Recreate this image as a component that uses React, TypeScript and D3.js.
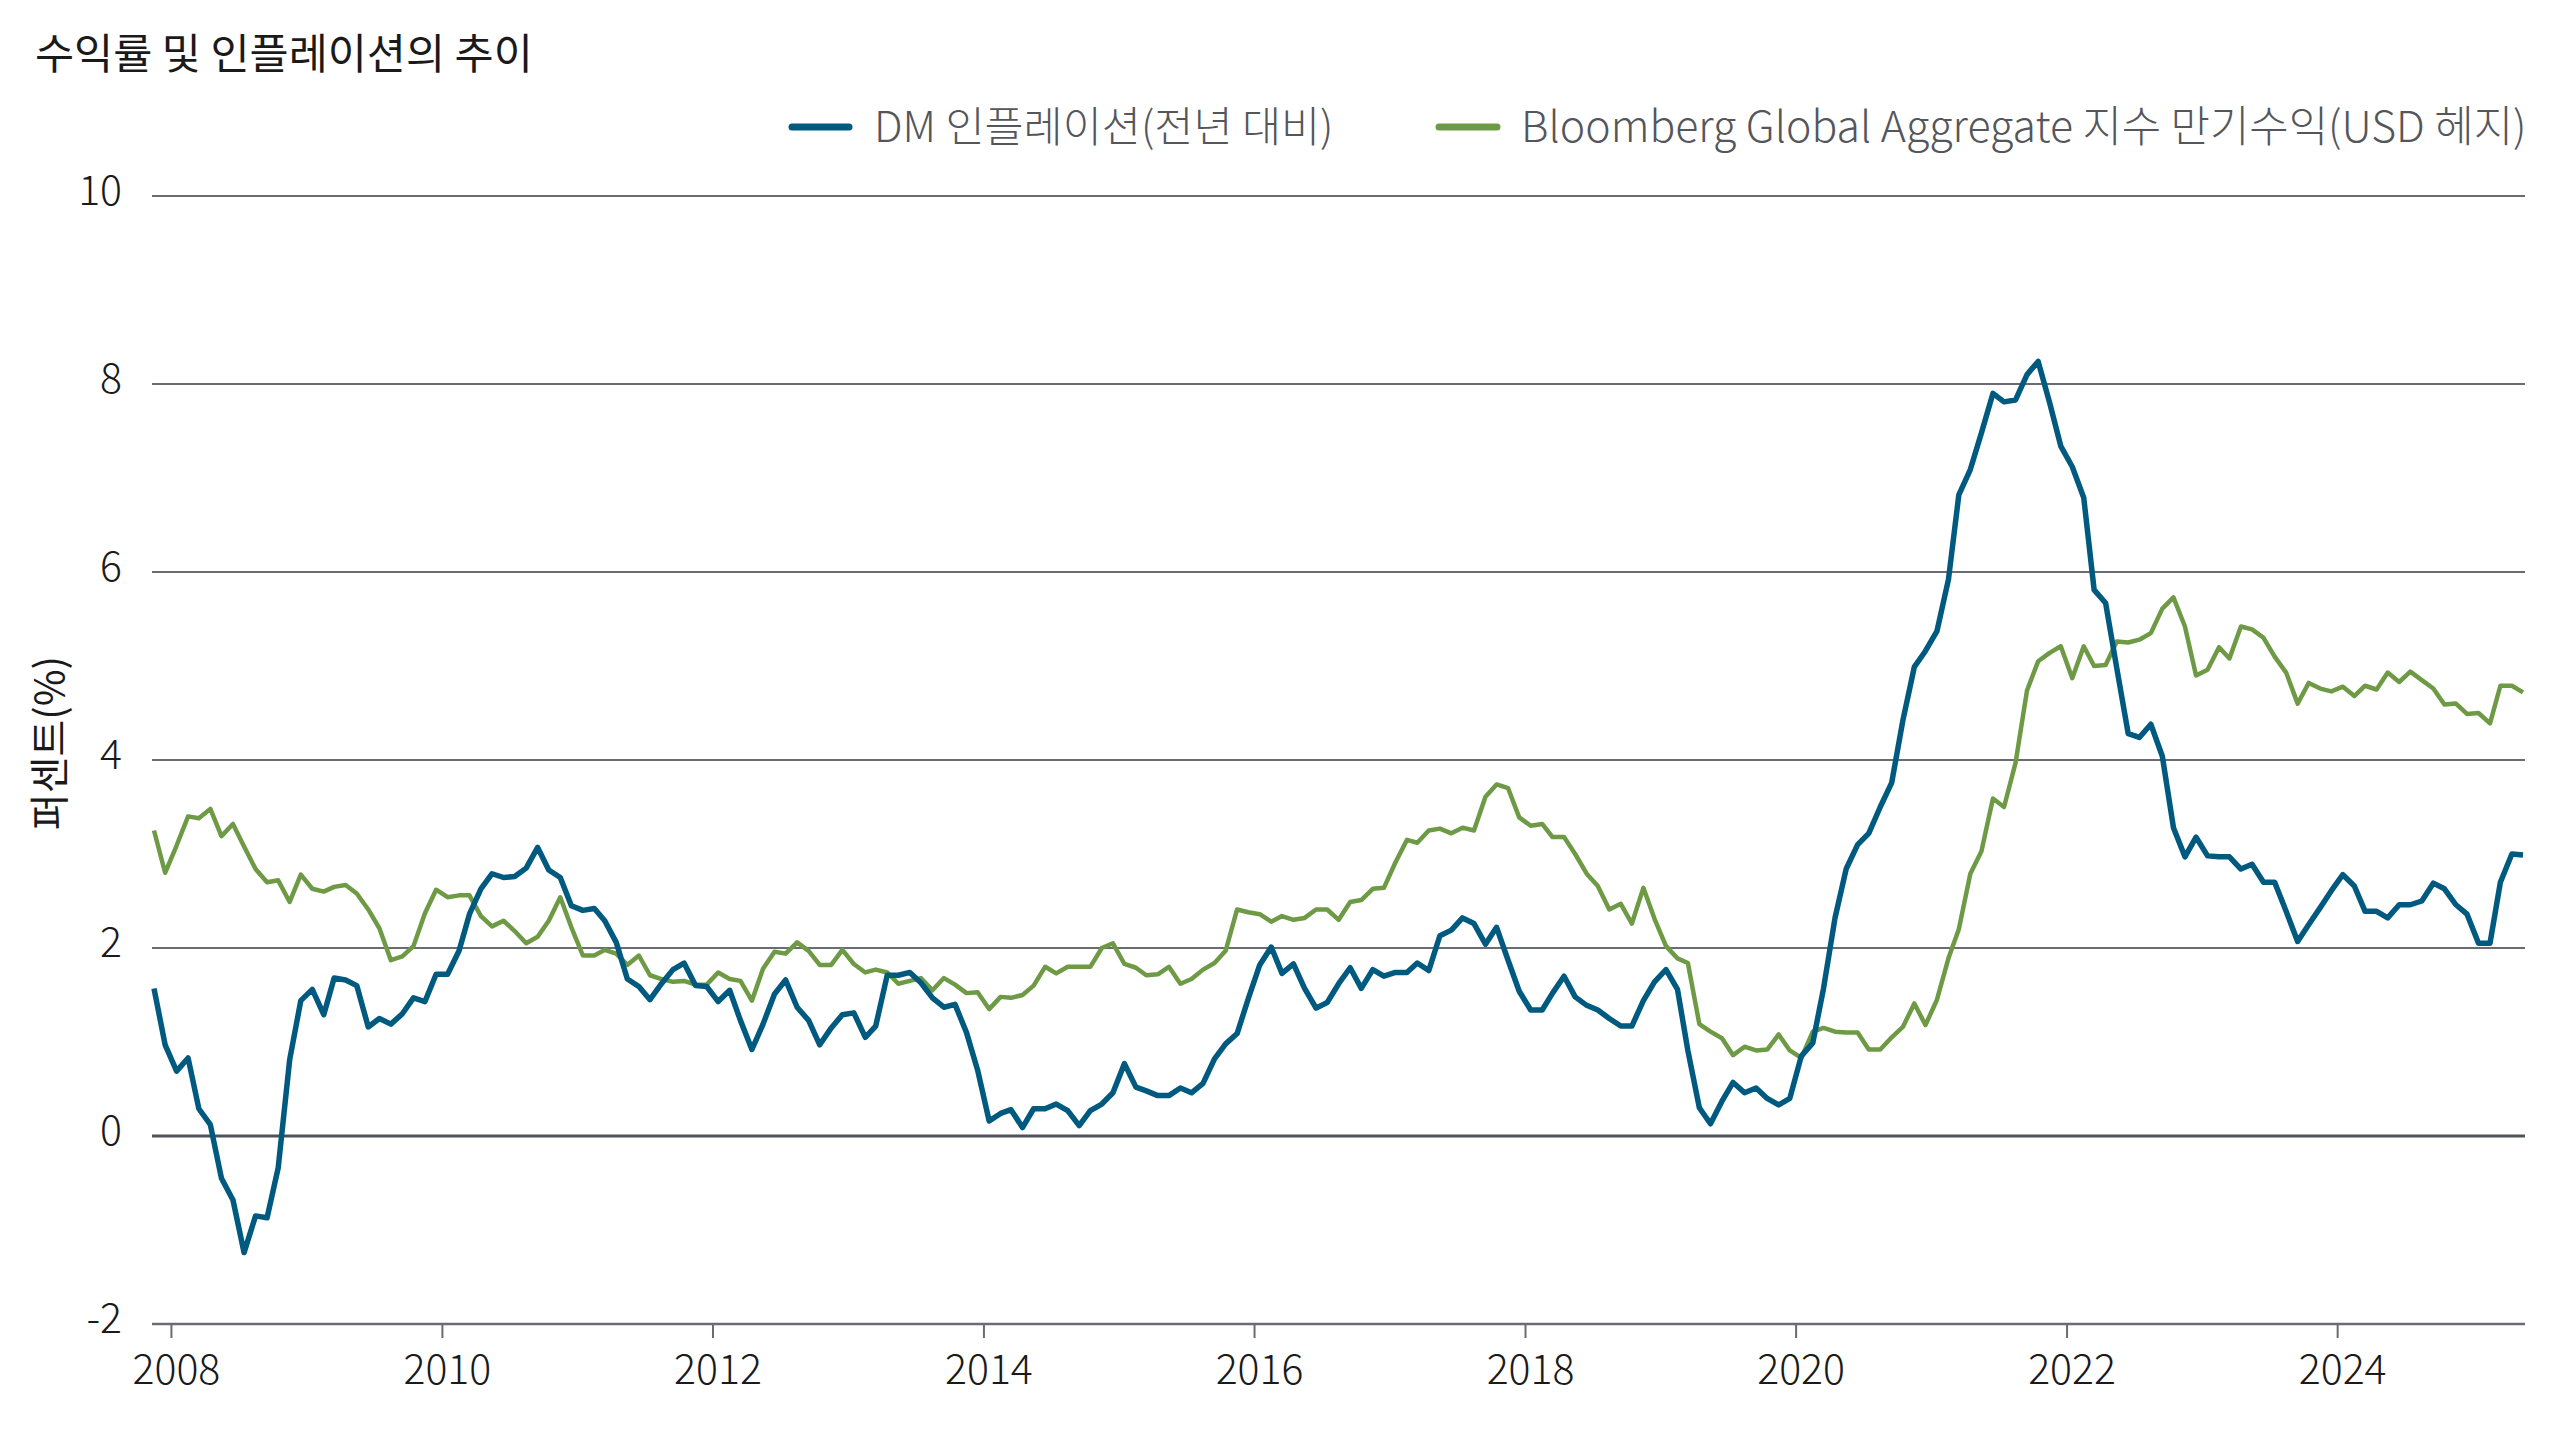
import * as React from "react";
import * as d3 from "d3";

// monthly readings, first month ~ Nov 2007 on the chart's date axis
const START = new Date(2007, 10, 15);

const dmInflation = [
  1.57, 0.97, 0.69, 0.83, 0.29, 0.12, -0.45, -0.68, -1.24, -0.85, -0.87, -0.34,
  0.81, 1.44, 1.56, 1.29, 1.68, 1.66, 1.6, 1.16, 1.25, 1.19, 1.3, 1.47,
  1.43, 1.72, 1.72, 1.97, 2.36, 2.63, 2.79, 2.75, 2.76, 2.85, 3.07, 2.83,
  2.75, 2.45, 2.4, 2.42, 2.29, 2.06, 1.67, 1.59, 1.45, 1.62, 1.77, 1.84,
  1.6, 1.59, 1.43, 1.55, 1.23, 0.92, 1.19, 1.51, 1.66, 1.37, 1.23, 0.97,
  1.15, 1.29, 1.31, 1.05, 1.17, 1.71, 1.71, 1.74, 1.63, 1.47, 1.37, 1.4,
  1.1, 0.7, 0.16, 0.24, 0.28, 0.09, 0.29, 0.29, 0.34, 0.27, 0.11, 0.27,
  0.34, 0.46, 0.77, 0.52, 0.48, 0.43, 0.43, 0.51, 0.46, 0.56, 0.82, 0.98,
  1.09, 1.46, 1.82, 2.01, 1.73, 1.83, 1.57, 1.36, 1.42, 1.62, 1.79, 1.57,
  1.77, 1.7, 1.74, 1.74, 1.84, 1.76, 2.13, 2.19, 2.32, 2.26, 2.04, 2.22,
  1.87, 1.54, 1.34, 1.34, 1.52, 1.7, 1.48, 1.39, 1.34, 1.25, 1.17, 1.17,
  1.44, 1.64, 1.77, 1.56, 0.91, 0.3, 0.13, 0.37, 0.57, 0.46, 0.51, 0.4,
  0.33, 0.4, 0.85, 0.99, 1.57, 2.32, 2.84, 3.1, 3.22, 3.5, 3.76, 4.42,
  4.99, 5.16, 5.37, 5.92, 6.82, 7.09, 7.48, 7.9, 7.81, 7.83, 8.1, 8.24,
  7.8, 7.34, 7.12, 6.79, 5.81, 5.67, 4.98, 4.28, 4.24, 4.38, 4.04, 3.28,
  2.97, 3.18, 2.98, 2.97, 2.97, 2.84, 2.89, 2.7, 2.7, 2.39, 2.07, 2.25,
  2.43, 2.61, 2.78, 2.66, 2.39, 2.39, 2.32, 2.46, 2.46, 2.5, 2.69, 2.63,
  2.46, 2.36, 2.05, 2.05, 2.7, 3.0, 2.99,
];

const globalAggYield = [
  3.25, 2.8, 3.09, 3.4, 3.38, 3.48, 3.19, 3.32, 3.08, 2.84, 2.7, 2.72,
  2.49, 2.78, 2.63, 2.6, 2.65, 2.67, 2.58, 2.41, 2.21, 1.87, 1.91, 2.02,
  2.37, 2.62, 2.54, 2.56, 2.56, 2.34, 2.23, 2.29, 2.18, 2.05, 2.12, 2.29,
  2.54, 2.22, 1.92, 1.92, 1.98, 1.94, 1.82, 1.92, 1.71, 1.67, 1.64, 1.65,
  1.61, 1.61, 1.74, 1.67, 1.65, 1.44, 1.78, 1.96, 1.94, 2.06, 1.97, 1.82,
  1.82, 1.98, 1.83, 1.74, 1.77, 1.74, 1.62, 1.65, 1.68, 1.55, 1.68, 1.61,
  1.52, 1.53, 1.35, 1.48, 1.47, 1.5, 1.6, 1.8, 1.73, 1.8, 1.8, 1.8,
  2.0, 2.05, 1.83, 1.79, 1.71, 1.72, 1.8, 1.62, 1.67, 1.77, 1.84, 1.97,
  2.41, 2.38, 2.36, 2.28, 2.34, 2.3, 2.32, 2.41, 2.41, 2.3, 2.49, 2.51,
  2.63, 2.64, 2.91, 3.15, 3.12, 3.25, 3.27, 3.22, 3.28, 3.25, 3.61, 3.74,
  3.7, 3.39, 3.3, 3.32, 3.18, 3.18, 3.0, 2.79, 2.66, 2.41, 2.47, 2.26,
  2.64, 2.31, 2.02, 1.89, 1.84, 1.19, 1.11, 1.04, 0.86, 0.95, 0.91, 0.92,
  1.08, 0.91, 0.83, 1.11, 1.15, 1.11, 1.1, 1.1, 0.92, 0.92, 1.05, 1.16,
  1.41, 1.18, 1.45, 1.89, 2.2, 2.79, 3.03, 3.59, 3.5, 3.97, 4.74, 5.05,
  5.14, 5.21, 4.87, 5.21, 5.0, 5.01, 5.26, 5.25, 5.28, 5.35, 5.61, 5.73,
  5.42, 4.9, 4.96, 5.2, 5.08, 5.42, 5.39, 5.3, 5.1, 4.93, 4.6, 4.82,
  4.76, 4.73, 4.78, 4.68, 4.79, 4.75, 4.93, 4.83, 4.94, 4.85, 4.76, 4.59,
  4.6, 4.49, 4.5, 4.39, 4.79, 4.79, 4.72,
];

const yTicks = [-2, 0, 2, 4, 6, 8, 10];
const xTickYears = [2008, 2010, 2012, 2014, 2016, 2018, 2020, 2022, 2024];

const TITLE = "수익률 및 인플레이션의 추이";
const Y_TITLE = "퍼센트(%)";
const SERIES = [
  { name: "DM 인플레이션(전년 대비)", color: "#005a80", width: 5.5 },
  { name: "Bloomberg Global Aggregate 지수 만기수익(USD 헤지)", color: "#6e9a45", width: 4.5 },
];

const FONT = "'Noto Sans CJK KR', 'Noto Sans', sans-serif";

export default function App() {
  const W = 2560, H = 1440;
  const dates = dmInflation.map((_, i) => d3.timeMonth.offset(START, i));

  const x = d3.scaleTime()
    .domain([dates[0], dates[dates.length - 1]])
    .range([154, 2523]);
  const y = d3.scaleLinear().domain([-2, 10]).range([1324, 196]);

  const line = d3.line<number>()
    .x((_, i) => x(dates[i]))
    .y(d => y(d))
    .curve(d3.curveLinear);

  const gridX0 = 152, gridX1 = 2525;

  return (
    <div style={{ position: "absolute", left: 0, top: 0 }}>
      <svg width={W} height={H} style={{ display: "block", background: "#fff" }} fontFamily={FONT}>
        <text x={35} y={54} dy="0.35em" fontSize={42.5} fill="#1a1a1a">{TITLE}</text>

        {/* legend */}
        <line x1={792} x2={849} y1={127} y2={127} stroke={SERIES[0].color} strokeWidth={7} strokeLinecap="round" />
        <text x={874} y={127} dy="0.35em" fontSize={42.5} fontWeight={300} fill="#54565b">{SERIES[0].name}</text>
        <line x1={1439} x2={1497} y1={127} y2={127} stroke={SERIES[1].color} strokeWidth={7} strokeLinecap="round" />
        <text x={1521} y={127} dy="0.35em" fontSize={42.8} fontWeight={300} fill="#54565b">{SERIES[1].name}</text>

        {/* grid */}
        {yTicks.map(t => (
          <g key={t}>
            <line x1={gridX0} x2={gridX1} y1={y(t)} y2={y(t)}
              stroke={t === 0 ? "#4f525a" : "#6a6c73"} strokeWidth={t === 0 ? 3 : t === -2 ? 2.5 : 1.8} />
            <text x={122} y={y(t) - 5} dy="0.35em" textAnchor="end" fontSize={41} fontWeight={300} fill="#1a1a1a">{t}</text>
          </g>
        ))}

        {/* x axis ticks */}
        {xTickYears.map(yr => {
          const px = x(new Date(yr, 0, 1));
          return (
            <g key={yr}>
              <line x1={px} x2={px} y1={1324} y2={1338} stroke="#6a6c73" strokeWidth={2} />
              <text x={px + 5} y={1370} dy="0.35em" textAnchor="middle" fontSize={41} fontWeight={300} fill="#1a1a1a">{yr}</text>
            </g>
          );
        })}

        <text transform={`translate(50,743) rotate(-90)`} dy="0.35em" textAnchor="middle" fontSize={40} fill="#1a1a1a">{Y_TITLE}</text>

        <path d={line(globalAggYield) || ""} fill="none" stroke={SERIES[1].color} strokeWidth={SERIES[1].width} strokeLinejoin="round" />
        <path d={line(dmInflation) || ""} fill="none" stroke={SERIES[0].color} strokeWidth={SERIES[0].width} strokeLinejoin="round" />
      </svg>
    </div>
  );
}
